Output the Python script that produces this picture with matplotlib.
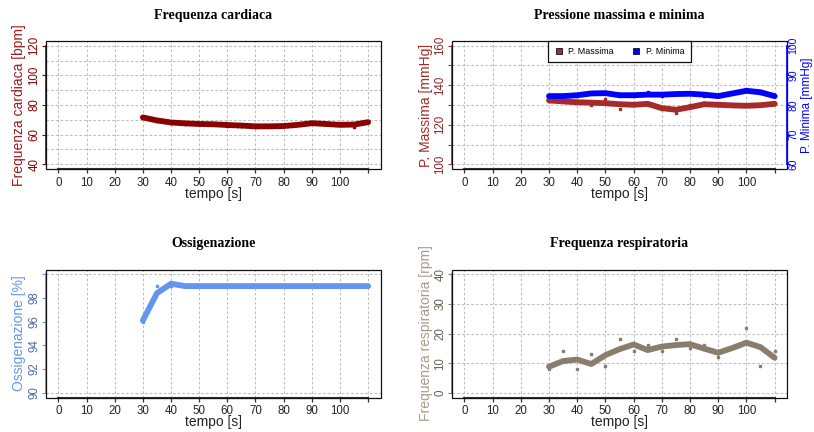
import matplotlib
matplotlib.use('Agg')
import matplotlib.pyplot as plt
from matplotlib.patches import Rectangle
from matplotlib.lines import Line2D

plt.rcParams['font.family'] = ['Liberation Sans', 'DejaVu Sans']

# ---------------- data ----------------
time = [30, 35, 40, 45, 50, 55, 60, 65, 70, 75, 80, 85, 90, 95, 100, 105, 110]

hr_smooth = [71.6, 69.6, 68.2, 67.6, 67.2, 67.0, 66.5, 66.1, 65.6, 65.6, 65.8, 66.6, 67.7, 67.2, 66.6, 66.8, 68.4]
hr_raw = [72, 69, 68, 67, 67, 67, 66, 66, 65, 66, 66, 67, 68, 67, 67, 65, 69]

pmax_smooth = [132.3, 131.8, 131.4, 131.2, 130.9, 130.4, 130.1, 130.6, 128.4, 127.6, 128.9, 130.4, 130.1, 129.8, 129.6, 129.9, 130.6]
pmax_raw = [132, 132, 131, 130, 133, 128, 131, 130, 128, 126, 130, 131, 130, 130, 130, 130, 131]
pmin_smooth = [83.0, 83.0, 83.3, 83.9, 84.0, 83.3, 83.3, 83.5, 83.5, 83.7, 83.8, 83.5, 83.0, 83.9, 84.8, 84.3, 83.0]
pmin_raw = [83, 83, 83, 84, 84, 83, 83, 84.5, 83, 84, 84, 83, 83, 84, 85, 84, 83]

o2_smooth = [96.1, 98.4, 99.2, 99.0, 99.0, 99.0, 99.0, 99.0, 99.0, 99.0, 99.0, 99.0, 99.0, 99.0, 99.0, 99.0, 99.0]
o2_raw = [96, 99, 99, 99, 99, 99, 99, 99, 99, 99, 99, 99, 99, 99, 99, 99, 99]

rr_smooth = [8.8, 10.7, 11.2, 9.7, 12.7, 14.7, 16.3, 14.4, 15.6, 16.1, 16.4, 14.9, 13.5, 15.1, 16.9, 15.4, 11.8]
rr_raw = [8, 14, 8, 13, 9, 18, 14, 16, 14, 18, 15, 16, 12, 15, 22, 9, 14]

xticks = [0, 10, 20, 30, 40, 50, 60, 70, 80, 90, 100, 110]
xticklabels = ['0', '10', '20', '30', '40', '50', '60', '70', '80', '90', '100', '']

# ---------------- figure ----------------
fig = plt.figure(figsize=(8.14, 4.32), dpi=100)
W, H = 814.0, 432.0


def make_ax(x0, x1, y0, y1):
    return fig.add_axes([x0 / W, 1 - y1 / H, (x1 - x0) / W, (y1 - y0) / H])


GRID = dict(color='#bdbdbd', linestyle=(0, (2.5, 2)), linewidth=0.75)


def style(ax, ylim, yticks, ylabels, ygrid, col_axis, col_ticklab, ylabel, col_label, title):
    ax.set_xlim(-4.4, 114.4)
    ax.set_ylim(*ylim)
    ax.yaxis.remove_overlapping_locs = False
    ax.set_xticks(xticks)
    ax.set_xticklabels(xticklabels, fontsize=8.3, color='#222222')
    ax.set_yticks(yticks)
    ax.set_yticklabels(ylabels, rotation=90, va='center', fontsize=8.3, color=col_ticklab)
    ax.set_yticks(ygrid, minor=True)
    ax.tick_params(axis='y', which='minor', length=0)
    ax.tick_params(axis='y', which='major', direction='out', length=3, width=0.8, color=col_axis, pad=1)
    ax.tick_params(axis='x', which='major', direction='out', length=3, width=0.9, color='#333333', pad=2.5)
    ax.grid(True, axis='x', which='major', **GRID)
    ax.grid(True, axis='y', which='minor', **GRID)
    ax.set_axisbelow(True)
    for s in ['top', 'right']:
        ax.spines[s].set_visible(False)
    ax.spines['bottom'].set_bounds(xticks[0], xticks[-1])
    ax.spines['bottom'].set_color('#333333')
    ax.spines['bottom'].set_linewidth(1.5)
    ax.spines['left'].set_bounds(yticks[0], yticks[-1])
    ax.spines['left'].set_color(col_axis)
    ax.spines['left'].set_linewidth(1.2)
    ax.add_patch(Rectangle((0, 0), 1, 1, transform=ax.transAxes, fill=False,
                           edgecolor='#111111', linewidth=0.9, clip_on=False, zorder=5))
    ax.set_xlabel('tempo [s]', fontsize=10, color='#222222', va='center')
    ax.xaxis.set_label_coords(0.5, -0.195)
    ax.set_ylabel(ylabel, fontsize=10, color=col_label, va='center')
    ax.yaxis.set_label_coords(-0.08, 0.5)
    ax.text(0.5, 1.2, title, transform=ax.transAxes, ha='center', va='center',
            fontsize=10, fontweight='bold', family='Liberation Serif')


def draw(ax, yraw, ysmooth, color):
    ax.plot(time, ysmooth, color=color, linewidth=4.2, solid_capstyle='round',
            solid_joinstyle='round', zorder=3)
    ax.plot(time, yraw, linestyle='none', marker='s', markersize=2, color=color, zorder=3)


# ---- Frequenza cardiaca ----
ax1 = make_ax(46, 380.5, 41, 169)
style(ax1, (36.8, 123.2), [40, 60, 80, 100, 120], ['40', '60', '80', '100', '120'],
      [40, 50, 60, 70, 80, 90, 100, 110, 120], '#8B0000', '#8B0000',
      'Frequenza cardiaca [bpm]', '#9B1B1B', 'Frequenza cardiaca')
draw(ax1, hr_raw, hr_smooth, '#8B0000')

# ---- Pressione ----
ax2 = make_ax(452, 787, 41, 169)
style(ax2, (97.6, 162.4), [100, 110, 120, 130, 140, 150, 160],
      ['100', '', '120', '', '140', '', '160'],
      [100, 110, 120, 130, 140, 150, 160], '#A52A2A', '#8E2424',
      'P. Massima [mmHg]', '#A52A2A', 'Pressione massima e minima')
draw(ax2, pmax_raw, pmax_smooth, '#A52A2A')
ax2.yaxis.set_label_coords(-0.078, 0.5)

ax2b = ax2.twinx()
ax2b.set_ylim(58.4, 101.6)
ax2b.set_yticks([60, 70, 80, 90, 100])
ax2b.set_yticklabels(['60', '70', '80', '90', '100'], rotation=90, va='center',
                     fontsize=7.5, color='#0000FF')
ax2b.tick_params(axis='y', direction='out', length=2.2, width=0.8, color='#0000FF', pad=-1)
for s in ['top', 'left', 'bottom']:
    ax2b.spines[s].set_visible(False)
ax2b.spines['right'].set_bounds(60, 100)
ax2b.spines['right'].set_color('#0000FF')
ax2b.spines['right'].set_linewidth(1.2)
ax2b.plot(time, pmin_smooth, color='#0000FF', linewidth=4.2, solid_capstyle='round',
          solid_joinstyle='round', zorder=3)
ax2b.plot(time, pmin_raw, linestyle='none', marker='s', markersize=2, color='#0000FF', zorder=3)
ax2b.set_ylabel('P. Minima [mmHg]', fontsize=8.5, color='#0000FF', va='center', rotation=90)
ax2b.yaxis.set_label_coords(1.0605, 0.5)

handles = [Line2D([], [], linestyle='none', marker='s', markersize=5,
                  markerfacecolor='#A52A2A', markeredgecolor='#111111', markeredgewidth=0.6),
           Line2D([], [], linestyle='none', marker='s', markersize=5,
                  markerfacecolor='#0000FF', markeredgecolor='#111111', markeredgewidth=0.6)]
leg = ax2b.legend(handles, ['P. Massima', 'P. Minima'], loc='upper center',
                  bbox_to_anchor=(0.5, 1.0), borderaxespad=0, ncol=2, fontsize=6.4,
                  fancybox=False, framealpha=1, edgecolor='#111111', borderpad=0.7,
                  handlelength=1.0, handletextpad=0.6, columnspacing=2.0)
leg.get_frame().set_linewidth(0.9)
leg.set_zorder(10)

# ---- Ossigenazione ----
ax3 = make_ax(46, 380.5, 269.5, 397.5)
style(ax3, (89.6, 100.4), [90, 92, 94, 96, 98, 100], ['90', '92', '94', '96', '98', ''],
      [90, 100], '#6495ED', '#4F6CA6', 'Ossigenazione [%]', '#6495ED', 'Ossigenazione')
draw(ax3, o2_raw, o2_smooth, '#6495ED')

# ---- Frequenza respiratoria ----
ax4 = make_ax(452, 787, 269.5, 397.5)
style(ax4, (-1.6, 41.6), [0, 10, 20, 30, 40], ['0', '10', '20', '30', '40'],
      [0, 10, 20, 30, 40], '#8B7D6B', '#6B5F50', 'Frequenza respiratoria [rpm]',
      '#A89A88', 'Frequenza respiratoria')
draw(ax4, rr_raw, rr_smooth, '#8B7D6B')
ax4.yaxis.set_label_coords(-0.078, 0.5)

fig.savefig('out.png', dpi=100)
